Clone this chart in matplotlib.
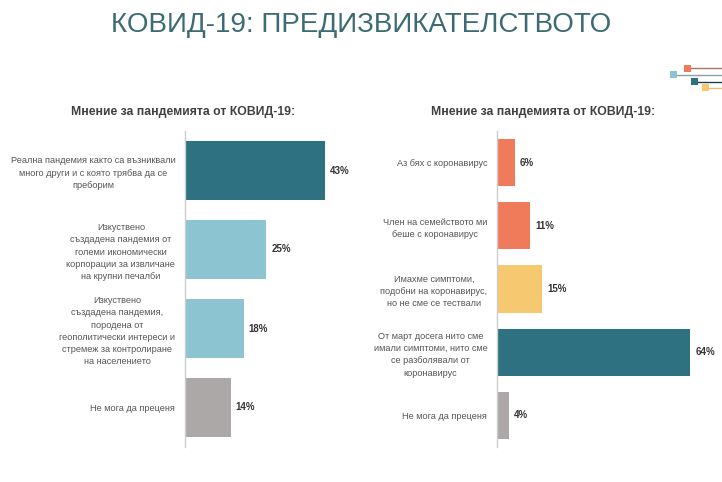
import matplotlib
matplotlib.use("Agg")
import matplotlib.pyplot as plt
from matplotlib.patches import Rectangle
from matplotlib.lines import Line2D

FONT = ['Liberation Sans', 'DejaVu Sans']

title = "КОВИД-19: ПРЕДИЗВИКАТЕЛСТВОТО"
subtitle = "Мнение за пандемията от КОВИД-19:"

left_labels = [
    "Реална пандемия както са възниквали\nмного други и с която трябва да се\nпреборим",
    "Изкуствено\nсъздадена пандемия от\nголеми икономически\nкорпорации за извличане\nна крупни печалби",
    "Изкуствено\nсъздадена пандемия,\nпородена от\nгеополитически интереси и\nстремеж за контролиране\nна населението",
    "Не мога да преценя",
]
left_values = [43, 25, 18, 14]
left_colors = ['#2e7282', '#8cc5d1', '#8cc5d1', '#aca8a8']

right_labels = [
    "Аз бях с коронавирус",
    "Член на семейството ми\nбеше с коронавирус",
    "Имахме симптоми,\nподобни на коронавирус,\nно не сме се тествали",
    "От март досега нито сме\nимали симптоми, нито сме\nсе разболявали от\nкоронавирус",
    "Не мога да преценя",
]
right_values = [6, 11, 15, 64, 4]
right_colors = ['#f07b5a', '#f07b5a', '#f6c86f', '#2e7282', '#aca8a8']

W, H = 722, 482
fig = plt.figure(figsize=(W / 100, H / 100), dpi=100)
fig.patch.set_facecolor('white')


def px_axes(x0, y0, w, h):
    return fig.add_axes([x0 / W, 1 - (y0 + h) / H, w / W, h / H])


def draw_panel(ax, labels, values, colors, width_px, px_per_pct, bh):
    n = len(values)
    ypos = list(range(n))
    ax.barh(ypos, values, height=bh, color=colors)
    for y, v in zip(ypos, values):
        ax.text(v + 5 / px_per_pct, y, f"{v}%", va='center', ha='left',
                fontsize=7, fontweight='bold', color='#333333', family=FONT)
    ax.set_ylim(n - 0.5, -0.5)
    ax.set_xlim(0, width_px / px_per_pct)
    ax.set_yticks(ypos)
    ax.set_yticklabels(labels, family=FONT, fontsize=6.6, color='#555555',
                       multialignment='center', linespacing=1.45)
    ax.tick_params(axis='y', length=0, pad=7)
    ax.set_xticks([])
    for s in ['top', 'right', 'bottom']:
        ax.spines[s].set_visible(False)
    ax.spines['left'].set_color('#cccccc')
    ax.spines['left'].set_linewidth(1)
    ax.set_facecolor('none')


axl = px_axes(185, 131, 160, 316)
draw_panel(axl, left_labels, left_values, left_colors, 160, 3.25, 0.74)

axr = px_axes(497, 131, 220, 316)
draw_panel(axr, right_labels, right_values, right_colors, 220, 3.02, 0.745)

fig.text(361 / W, 1 - 25 / H, title, ha='center', va='center',
         fontsize=20, color='#3d6b73', family=FONT)
fig.text(183 / W, 1 - 111.5 / H, subtitle, ha='center', va='center',
         fontsize=8.8, fontweight='bold', color='#404040', family=FONT)
fig.text(543.5 / W, 1 - 111.5 / H, subtitle, ha='center', va='center',
         fontsize=8.8, fontweight='bold', color='#404040', family=FONT)

# corner decoration
deco = [
    (684, 65, '#f07b5a', '#b0705a'),
    (670, 71, '#8cc5d1', '#8aa0a8'),
    (691, 78, '#2e7282', '#1f3f4f'),
    (702, 84, '#f6c86f', '#e6c070'),
]
for x0, y0, fc, lc in deco:
    fig.add_artist(Line2D([(x0 + 7) / W, 1], [1 - (y0 + 3.5) / H] * 2,
                          color=lc, lw=1, transform=fig.transFigure))
    fig.add_artist(Rectangle((x0 / W, 1 - (y0 + 7) / H), 7 / W, 7 / H,
                             facecolor=fc, edgecolor='none',
                             transform=fig.transFigure))

fig.savefig("out.png", dpi=100, facecolor='white')
